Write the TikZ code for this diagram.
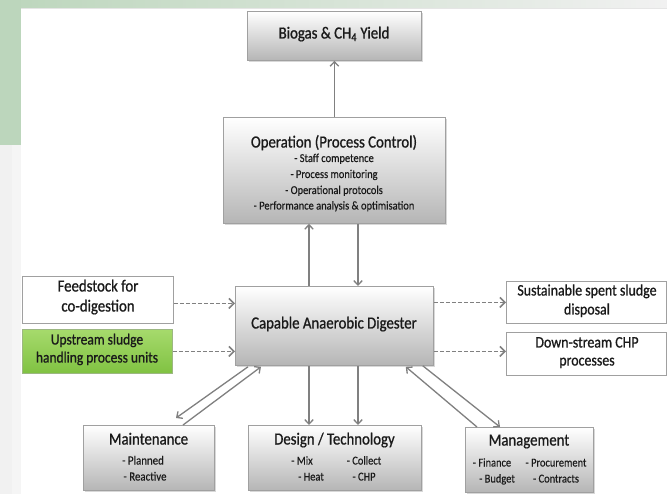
\documentclass[tikz,border=0pt]{standalone}
\usepackage{fontspec}
\setmainfont{Carlito}[FakeStretch=0.87]
\newfontfamily\titlefont{Carlito}[FakeStretch=0.87, FakeBold=0.9]
\newfontfamily\subfont{Carlito}[FakeStretch=0.87, FakeBold=0.3]
\usetikzlibrary{arrows.meta,shadows,calc}
\definecolor{bordergray}{HTML}{A0A0A0}
\definecolor{shadegray}{HTML}{B5B5B5}
\definecolor{arrowgray}{HTML}{808080}
\definecolor{txt}{HTML}{1A1A1A}
\definecolor{greentop}{HTML}{A6DA6C}
\definecolor{greenbot}{HTML}{80C242}
\definecolor{bggreen}{HTML}{BCD6BC}
\definecolor{bggray}{HTML}{F1F1F1}
\tikzset{
  box/.style={rectangle, anchor=north west, draw=bordergray, line width=0.8pt, inner sep=0pt,
    top color=white, middle color=white, bottom color=shadegray,
    drop shadow={opacity=0.3, shadow xshift=1.2pt, shadow yshift=-1.2pt}},
  plainbox/.style={rectangle, anchor=north west, draw=bordergray, line width=0.8pt, inner sep=0pt, fill=white},
  greenbox/.style={rectangle, anchor=north west, draw=greenbot!70!black!60, line width=0.8pt, inner sep=0pt,
    top color=greentop, bottom color=greenbot},
  lbl/.style={text=txt, inner sep=0pt, text height=0.7em, text depth=0.2em, font=\titlefont\fontsize{17}{19}\selectfont},
  mid/.style={lbl, font=\titlefont\fontsize{16}{18}\selectfont},
  sml/.style={lbl, font=\titlefont\fontsize{15.5}{17}\selectfont},
  sub/.style={lbl, font=\subfont\fontsize{12}{13}\selectfont},
  subb/.style={lbl, font=\subfont\fontsize{12.5}{14}\selectfont},
  arr/.style={draw=arrowgray, line width=1.3pt, -{Straight Barb[length=4.5pt,width=8.5pt]}},
  darr/.style={draw=arrowgray, line width=1.6pt, dash pattern=on 4pt off 2pt,
    -{Straight Barb[length=5pt,width=10pt]}}
}
\begin{document}
\begin{tikzpicture}[x=1pt,y=-1pt]
\useasboundingbox (0,0) rectangle (667,494);
% slide background
\fill[bggray] (0,0) rectangle (667,494);
\shade[left color=bggreen, right color=bggray] (0,0) rectangle (667,9);
\fill[black!10] (21,8) rectangle (667,9.5);
\fill[bggreen] (0,0) rectangle (21,145);
\fill[black!4] (12,145) rectangle (21,494);
\fill[white] (21,9.5) rectangle (667,494);

% boxes
\node[box, minimum width=174pt, minimum height=49pt] (bio) at (247,11) {};
\node[box, minimum width=222pt, minimum height=106pt] (op) at (223,117) {};
\node[box, minimum width=198pt, minimum height=79pt] (dig) at (235,286) {};
\node[plainbox, minimum width=151pt, minimum height=47pt] (feed) at (22,276) {};
\node[greenbox, minimum width=150pt, minimum height=44pt] (up) at (22,329) {};
\node[plainbox, minimum width=160pt, minimum height=42pt] (sust) at (506,281) {};
\node[plainbox, minimum width=160pt, minimum height=43pt] (down) at (506,332) {};
\node[box, minimum width=131pt, minimum height=65pt] (mnt) at (83,425) {};
\node[box, minimum width=173pt, minimum height=65pt] (des) at (248,425) {};
\node[box, minimum width=128pt, minimum height=65pt] (mgt) at (465,427) {};

% texts
\node[lbl] (tbio) at (334,36) {Biogas \& CH\textsubscript{4} Yield};
\node[lbl] (top) at (334,145) {Operation (Process Control)};
\node[sub] (op1) at (334,159.5) {- Staff competence};
\node[sub] (op2) at (334,175.5) {- Process monitoring};
\node[sub] (op3) at (334,191.5) {- Operational protocols};
\node[sub] (op4) at (334,207) {- Performance analysis \& optimisation};
\node[lbl] (tdig) at (334,326) {Capable Anaerobic Digester};
\node[lbl] (tf1) at (98,289) {Feedstock for};
\node[lbl] (tf2) at (98,309) {co-digestion};
\node[sml] (tu1) at (97,342) {Upstream sludge};
\node[sml] (tu2) at (97,360) {handling process units};
\node[mid] (ts1) at (587,293) {Sustainable spent sludge};
\node[mid] (ts2) at (587,312) {disposal};
\node[mid] (td1) at (587,345) {Down-stream CHP};
\node[mid] (td2) at (587,363) {processes};
\node[lbl] (tm) at (148.5,442) {Maintenance};
\node[subb] (tm1) at (143,462) {- Planned};
\node[subb] (tm2) at (145,478) {- Reactive};
\node[lbl] (tdes) at (334.5,442) {Design / Technology};
\node[sub] (td3) at (302,462) {- Mix};
\node[sub] (td4) at (311,478) {- Heat};
\node[sub] (td5) at (364,462) {- Collect};
\node[sub] (td6) at (364,478) {- CHP};
\node[lbl] (tmg) at (529,443) {Management};
\node[sub] (tg1) at (492,464) {- Finance};
\node[sub] (tg2) at (556,464) {- Procurement};
\node[sub] (tg3) at (497,480) {- Budget};
\node[sub] (tg4) at (556,480) {- Contracts};

% connectors
\draw[arr] (op.north) -- (bio.south);
\draw[arr] ([xshift=74pt]dig.north west) -- ([xshift=86pt]op.south west);
\draw[arr] ([xshift=135pt]op.south west) -- ([xshift=123pt]dig.north west);
\draw[arr] ([xshift=74pt]dig.south west) -- ([xshift=61pt]des.north west);
\draw[arr] ([xshift=123pt]dig.south west) -- ([xshift=110pt]des.north west);
\draw[arr] ([xshift=13pt,yshift=-1pt]dig.south west) -- ([xshift=93pt,yshift=7pt]mnt.north west);
\draw[arr] ([xshift=100pt]mnt.north west) -- ([xshift=26pt,yshift=-1pt]dig.south west);
\draw[arr] ([xshift=12pt]mgt.north west) -- ([xshift=-28pt,yshift=-1pt]dig.south east);
\draw[arr] ([xshift=-11pt]dig.south east) -- ([xshift=35pt]mgt.north west);
\draw[darr] ([yshift=-3.5pt]feed.east) -- ([yshift=-3.5pt]feed.east -| dig.west);
\draw[darr] (up.east) -- (up.east -| dig.west);
\draw[darr] (sust.west -| dig.east) -- (sust.west);
\draw[darr] ([yshift=2.5pt]down.west -| dig.east) -- ([yshift=2.5pt]down.west);
\end{tikzpicture}
\end{document}
